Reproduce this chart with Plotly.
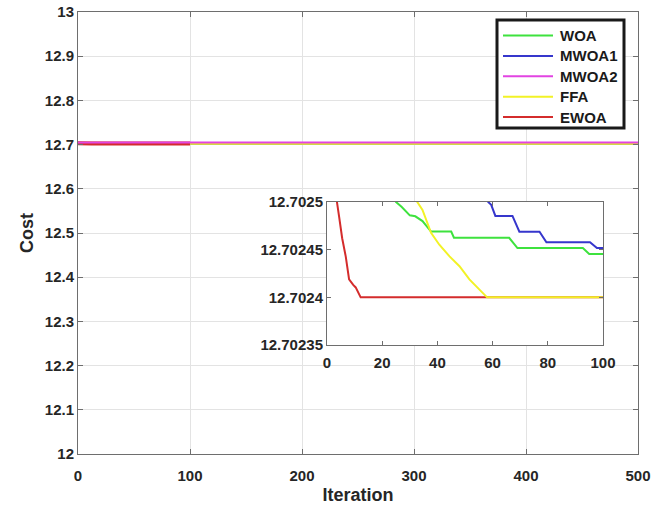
import plotly.graph_objects as go

# ---------------- data ----------------
series_names = ["WOA", "MWOA1", "MWOA2", "FFA", "EWOA"]
series_colors = ["#3ee23e", "#3636cc", "#e244e2", "#f2f226", "#d42c2c"]

woa_iter = [0, 20, 25, 27, 30, 32, 34.6, 37.7, 45, 46, 66, 69, 92.7, 95, 100]
woa_cost = [12.7032, 12.70258, 12.7025, 12.702495, 12.702486, 12.702485, 12.70248,
            12.702469, 12.702469, 12.7024625, 12.7024625, 12.7024517, 12.7024517,
            12.7024455, 12.7024455]

mwoa1_iter = [0, 50, 58.4, 59.5, 61, 67.2, 69.7, 77, 79.5, 95.3, 97.8, 100]
mwoa1_cost = [12.7035, 12.70258, 12.7025, 12.702497, 12.7024854, 12.7024854,
              12.7024688, 12.7024688, 12.7024577, 12.7024577, 12.7024517, 12.7024517]

mwoa2_iter = [0, 100]
mwoa2_cost = [12.7045, 12.7045]

ffa_iter = [0, 30, 32.7, 34.6, 37.7, 40.7, 44.4, 48, 51.6, 55.3, 58, 100]
ffa_cost = [12.7040, 12.70256, 12.7025, 12.7024917, 12.7024677, 12.7024552,
            12.702443, 12.7024326, 12.7024188, 12.7024083, 12.7024, 12.7024]

ewoa_iter = [0, 3.6, 4.4, 5.5, 6.8, 8, 9.5, 10.4, 12.2, 100]
ewoa_cost = [12.7030, 12.7025, 12.7024844, 12.7024620, 12.7024427, 12.7024188,
             12.7024130, 12.7024104, 12.7024, 12.7024]

max_iter = 500

main_xticks = [0, 100, 200, 300, 400, 500]
main_yticks = [12.0, 12.1, 12.2, 12.3, 12.4, 12.5, 12.6, 12.7, 12.8, 12.9, 13.0]
main_yticktext = ["12", "12.1", "12.2", "12.3", "12.4", "12.5", "12.6", "12.7", "12.8", "12.9", "13"]

inset_xticks = [0, 20, 40, 60, 80, 100]
inset_yticks = [12.70235, 12.7024, 12.70245, 12.7025]
inset_yticktext = ["12.70235", "12.7024", "12.70245", "12.7025"]

# ---------------- figure ----------------
FONT = "Liberation Sans, Arial, sans-serif"
TXT = "#262626"
AX = "#6e6e6e"

W, H = 667, 510
ML, MR, MT, MB = 78, 29, 12, 56
PW, PH = W - ML - MR, H - MT - MB


def px_to_paper(px, py):
    return (px - ML) / PW, (H - MB - py) / PH


fig = go.Figure()

iters = [woa_iter, mwoa1_iter, mwoa2_iter, ffa_iter, ewoa_iter]
costs = [woa_cost, mwoa1_cost, mwoa2_cost, ffa_cost, ewoa_cost]

# main plot: series extended to the final iteration (EWOA ran 100 iterations)
main_draw_order = [0, 1, 3, 4, 2]
main_widths = {0: 2, 1: 2, 2: 2, 3: 2.5, 4: 4}
for i in main_draw_order:
    xs = list(iters[i])
    ys = list(costs[i])
    if series_names[i] != "EWOA":
        xs = xs + [max_iter]
        ys = ys + [ys[-1]]
    fig.add_trace(go.Scatter(
        x=xs, y=ys, mode="lines", name=series_names[i], showlegend=False,
        line=dict(color=series_colors[i], width=main_widths[i]),
        xaxis="x", yaxis="y"))

# inset: zoom on first 100 iterations
inset_order = [4, 0, 1, 2, 3]
for i in inset_order:
    fig.add_trace(go.Scatter(
        x=iters[i], y=costs[i], mode="lines", name=series_names[i], showlegend=False,
        line=dict(color=series_colors[i], width=2),
        xaxis="x2", yaxis="y2"))

ix0, iy1 = px_to_paper(327, 202)
ix1, iy0 = px_to_paper(603, 345)
inset_dom_x = [ix0, ix1]
inset_dom_y = [iy0, iy1]
main_y_range = [12, 13]

tickfont = dict(family=FONT, size=15, color=TXT, weight="bold")

shapes = [dict(type="rect", xref="x", yref="y",
               x0=inset_dom_x[0] * max_iter, x1=inset_dom_x[1] * max_iter,
               y0=main_y_range[0] + inset_dom_y[0] * (main_y_range[1] - main_y_range[0]),
               y1=main_y_range[0] + inset_dom_y[1] * (main_y_range[1] - main_y_range[0]),
               fillcolor="white", line=dict(width=0), layer="between")]
annotations = []

# legend box drawn MATLAB-style
lx0, ly0 = px_to_paper(497, 20)
lx1, ly1 = px_to_paper(624, 128)
shapes.append(dict(type="rect", xref="paper", yref="paper", x0=lx0, x1=lx1, y0=ly1, y1=ly0,
                   fillcolor="white", line=dict(color="#1a1a1a", width=3), layer="above"))
row_y0, row_step = 35.5, 20.4
for k, name in enumerate(series_names):
    py = row_y0 + k * row_step
    sx0, sy = px_to_paper(503, py)
    sx1, _ = px_to_paper(553, py)
    tx, _ = px_to_paper(558, py)
    shapes.append(dict(type="line", xref="paper", yref="paper", x0=sx0, x1=sx1, y0=sy, y1=sy,
                       line=dict(color=series_colors[k], width=2), layer="above"))
    annotations.append(dict(xref="paper", yref="paper", x=tx, y=sy, xanchor="left",
                            yanchor="middle", text="<b>%s</b>" % name, showarrow=False,
                            font=dict(family=FONT, size=15, color="#1a1a1a")))

fig.update_layout(
    width=W, height=H,
    margin=dict(l=ML, r=MR, t=MT, b=MB),
    paper_bgcolor="white", plot_bgcolor="white",
    font=dict(family=FONT, color=TXT),
    showlegend=False,
    xaxis=dict(domain=[0, 1], range=[0, max_iter], tickvals=main_xticks,
               showgrid=True, gridcolor="#e3e3e3", gridwidth=1, automargin=False,
               showline=True, linecolor=AX, linewidth=1, mirror="ticks",
               ticks="inside", ticklen=5, tickcolor=AX, zeroline=False,
               tickfont=tickfont, ticklabelstandoff=8,
               title=dict(text="<b>Iteration</b>", font=dict(family=FONT, size=18, color=TXT),
                          standoff=5)),
    yaxis=dict(domain=[0, 1], range=main_y_range, tickvals=main_yticks, ticktext=main_yticktext,
               showgrid=True, gridcolor="#e3e3e3", gridwidth=1, automargin=False,
               showline=True, linecolor=AX, linewidth=1, mirror="ticks",
               ticks="inside", ticklen=5, tickcolor=AX, zeroline=False,
               tickfont=tickfont,
               title=dict(text="<b>Cost</b>", font=dict(family=FONT, size=18, color=TXT),
                          standoff=6)),
    xaxis2=dict(domain=inset_dom_x, anchor="y2", range=[0, 100], tickvals=inset_xticks,
                showgrid=False, showline=True, linecolor=AX, linewidth=1, mirror="ticks",
                ticks="inside", ticklen=4, tickcolor=AX, zeroline=False, automargin=False,
                tickfont=tickfont, ticklabelstandoff=4),
    yaxis2=dict(domain=inset_dom_y, anchor="x2", range=[12.70235, 12.7025],
                tickvals=inset_yticks, ticktext=inset_yticktext, automargin=False,
                showgrid=False, showline=True, linecolor=AX, linewidth=1, mirror="ticks",
                ticks="inside", ticklen=4, tickcolor=AX, zeroline=False,
                tickfont=tickfont),
    shapes=shapes,
    annotations=annotations,
)

fig.write_html("out.html")
